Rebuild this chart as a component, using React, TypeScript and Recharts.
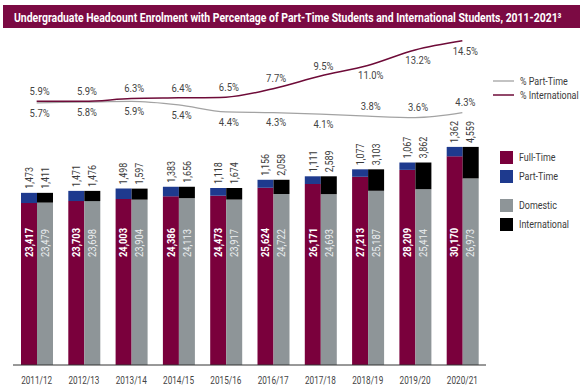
import React from 'react';
import { ComposedChart, Bar, Line, XAxis, YAxis, LabelList } from 'recharts';

const years = ['2011/12', '2012/13', '2013/14', '2014/15', '2015/16', '2016/17', '2017/18', '2018/19', '2019/20', '2020/21'];
const fullTime = [23417, 23703, 24003, 24386, 24473, 25624, 26171, 27213, 28209, 30170];
const partTime = [1473, 1471, 1498, 1383, 1118, 1156, 1111, 1077, 1067, 1362];
const domestic = [23479, 23698, 23904, 24113, 23917, 24722, 24693, 25187, 25414, 26973];
const international = [1411, 1476, 1597, 1656, 1674, 2058, 2589, 3103, 3862, 4559];
const pctPartTime = [5.7, 5.8, 5.9, 5.4, 4.4, 4.3, 4.1, 3.8, 3.6, 4.3];
const pctInternational = [5.9, 5.9, 6.3, 6.4, 6.5, 7.7, 9.5, 11.0, 13.2, 14.5];

const data = years.map((year, i) => ({
  year,
  fullTime: fullTime[i],
  partTime: partTime[i],
  domestic: domestic[i],
  international: international[i],
  pctPartTime: pctPartTime[i],
  pctInternational: pctInternational[i],
}));

const FONT = 'Roboto, sans-serif';
const MAROON = '#7a003c';
const BLUE = '#1e3a8e';
const GREY = '#8e9598';
const TEXT = '#3a3a3a';

const fmt = (v: number) => v.toLocaleString('en-US');

// condensed text: squeeze along the reading direction
const CText = ({ x, y, rot = 0, sx = 0.82, children, ...rest }: any) => (
  <text transform={`translate(${x} ${y}) rotate(${rot}) scale(${sx} 1)`} x={0} y={0}
    fontFamily={FONT} {...rest}>
    {children}
  </text>
);

// value above the top of a stacked segment, reading bottom-to-top
const TopLabel = (props: any) => {
  const { x, y, width, value } = props;
  return (
    <CText x={x + width / 2} y={y - 4} rot={-90} sx={0.85} textAnchor="start"
      dominantBaseline="central" fontSize={10.5} fill={TEXT}>
      {fmt(value)}
    </CText>
  );
};

// value inside the lower segment, at a fixed height above the baseline
const makeInside = (fill: string, weight: number) => (props: any) => {
  const { x, y, width, height, value } = props;
  return (
    <CText x={x + width / 2} y={y + height - 108} rot={-90} sx={0.85} textAnchor="start"
      dominantBaseline="central" fontSize={11} fontWeight={weight} fill={fill}>
      {fmt(value)}
    </CText>
  );
};

const makePct = (aboveUntil: number, startAbove: boolean) => (props: any) => {
  const { x, y, value, index } = props;
  const above = index < aboveUntil ? startAbove : !startAbove;
  return (
    <CText x={x + 3} y={above ? y - 10 : y + 10} sx={0.86} textAnchor="middle" dominantBaseline="central"
      fontSize={11} fill="#444">
      {value.toFixed(1)}%
    </CText>
  );
};

const YearTick = (props: any) => {
  const { x, y, payload } = props;
  return (
    <CText x={x} y={y + 3} sx={0.78} textAnchor="middle" dominantBaseline="hanging" fontSize={10.5} fill="#444">
      {payload.value}
    </CText>
  );
};

export default function App() {
  return (
    <div style={{ position: 'absolute', left: 0, top: 0, width: 585, height: 388, background: '#fff' }}>
      <ComposedChart width={585} height={388} data={data}
        margin={{ top: 33, right: 99, left: 13, bottom: 0 }} barGap={0}>
        <XAxis dataKey="year" interval={0} height={23} tickLine={false}
          axisLine={{ stroke: '#333' }} tick={<YearTick />} />
        <YAxis yAxisId="cnt" hide domain={[0, 48000]} />
        <YAxis yAxisId="pct" hide domain={[-31.5, 15.6]} allowDataOverflow />
        <Bar yAxisId="cnt" dataKey="fullTime" stackId="a" fill={MAROON} barSize={16} isAnimationActive={false}>
          <LabelList dataKey="fullTime" content={makeInside('#fff', 700)} />
        </Bar>
        <Bar yAxisId="cnt" dataKey="partTime" stackId="a" fill={BLUE} barSize={16} isAnimationActive={false}>
          <LabelList dataKey="partTime" content={TopLabel} />
        </Bar>
        <Bar yAxisId="cnt" dataKey="domestic" stackId="b" fill={GREY} barSize={16} isAnimationActive={false}>
          <LabelList dataKey="domestic" content={makeInside('#eceff0', 400)} />
        </Bar>
        <Bar yAxisId="cnt" dataKey="international" stackId="b" fill="#000" barSize={16} isAnimationActive={false}>
          <LabelList dataKey="international" content={TopLabel} />
        </Bar>
        <Line yAxisId="pct" type="monotone" dataKey="pctPartTime" stroke="#a3a3a3" strokeWidth={1.3}
          dot={false} isAnimationActive={false}>
          <LabelList dataKey="pctPartTime" content={makePct(7, false)} />
        </Line>
        <Line yAxisId="pct" type="monotone" dataKey="pctInternational" stroke="#6e0b38" strokeWidth={1.5}
          dot={false} isAnimationActive={false}>
          <LabelList dataKey="pctInternational" content={makePct(7, true)} />
        </Line>
      </ComposedChart>

      <svg width={585} height={388} style={{ position: 'absolute', left: 0, top: 0, pointerEvents: 'none' }}>
        <rect x={3} y={5} width={577} height={23} fill="#7b0a43" />
        <CText x={14} y={17} sx={0.75} dominantBaseline="central" fill="#fff" fontSize={13} fontWeight={700}
          textLength={730} lengthAdjust="spacingAndGlyphs">
          Undergraduate Headcount Enrolment with Percentage of Part-Time Students and International Students, 2011-2021³
        </CText>

        <line x1={493} x2={514} y1={81} y2={81} stroke="#a3a3a3" strokeWidth={1.3} />
        <CText x={520} y={81} sx={0.85} dominantBaseline="central" fontSize={10.5} fill={TEXT}>% Part-Time</CText>
        <line x1={493} x2={514} y1={95} y2={95} stroke="#6e0b38" strokeWidth={1.5} />
        <CText x={520} y={95} sx={0.85} dominantBaseline="central" fontSize={10.5} fill={TEXT}>% International</CText>

        {[
          { label: 'Full-Time', color: MAROON, y: 151 },
          { label: 'Part-Time', color: BLUE, y: 170 },
          { label: 'Domestic', color: GREY, y: 199 },
          { label: 'International', color: '#000', y: 218 },
        ].map((d) => (
          <g key={d.label}>
            <rect x={500} y={d.y} width={13} height={13} fill={d.color} />
            <CText x={519} y={d.y + 6.5} sx={0.85} dominantBaseline="central" fontSize={10.5} fill={TEXT}>
              {d.label}
            </CText>
          </g>
        ))}
      </svg>
    </div>
  );
}
